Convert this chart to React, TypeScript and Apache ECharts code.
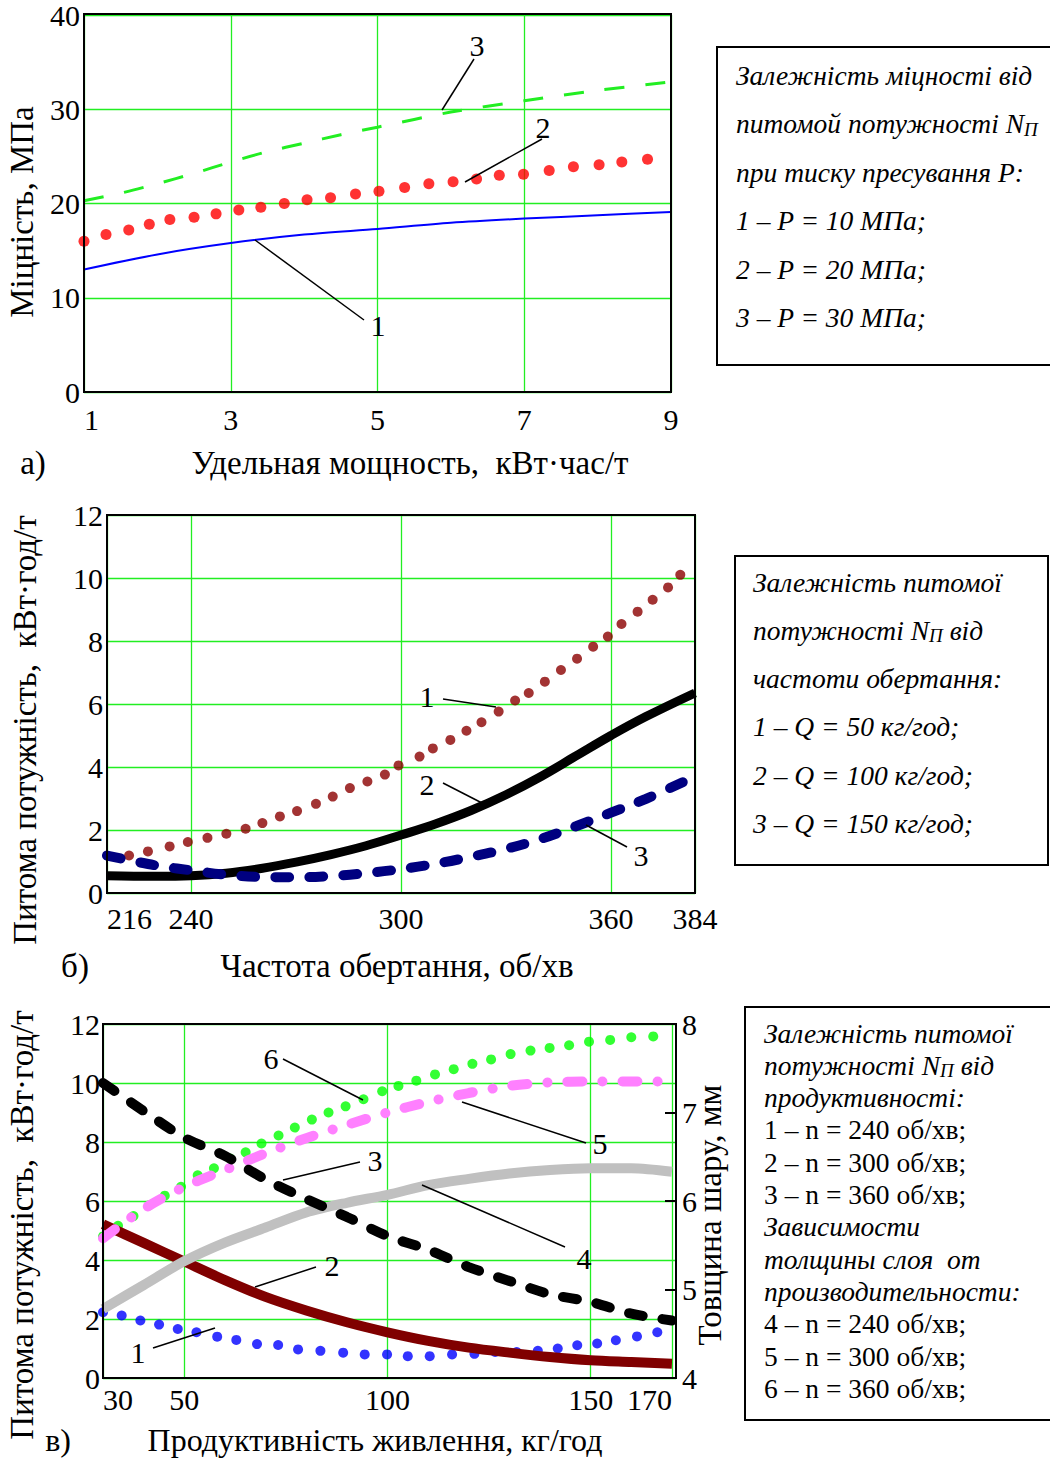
import React, { useEffect, useRef } from 'react';
import * as echarts from 'echarts';

const FONT = "'Liberation Serif', 'Times New Roman', serif";

// ---------- Chart а) ----------
const aTicksX = [1, 3, 5, 7, 9];
const a1X = [1, 2, 3, 4, 5, 6, 7, 8, 9];
const a1Y = [13.0, 14.6, 15.8, 16.7, 17.3, 17.95, 18.4, 18.75, 19.1];
const a2X = [1.0, 1.3, 1.61, 1.89, 2.17, 2.5, 2.8, 3.11, 3.41, 3.73, 4.04, 4.36, 4.7, 5.02, 5.37, 5.7, 6.03, 6.35, 6.66, 6.99, 7.34, 7.67, 8.02, 8.33, 8.68];
const a2Y = [16.0, 16.7, 17.2, 17.8, 18.3, 18.55, 18.9, 19.3, 19.6, 20.0, 20.4, 20.6, 21.0, 21.3, 21.7, 22.1, 22.3, 22.6, 23.0, 23.1, 23.5, 23.9, 24.1, 24.4, 24.7];
const a3X = [1, 1.5, 2, 2.5, 3, 3.5, 4, 4.5, 5, 6, 7, 8, 9];
const a3Y = [20.3, 21.1, 22.1, 23.2, 24.4, 25.5, 26.4, 27.3, 28.1, 29.7, 30.9, 32.0, 32.9];

// ---------- Chart б) ----------
const bTicksX = [216, 240, 300, 360, 384];
const b1X = [222.3, 227.7, 233.9, 239.1, 244.7, 250.1, 255.6, 260.4, 265.4, 270.3, 275.7, 280.5, 285.4, 290.4, 295.4, 299.3, 305.3, 309.1, 314.1, 318.7, 323.0, 327.9, 332.6, 336.5, 341.1, 345.7, 350.3, 354.9, 359.1, 363.0, 367.6, 371.9, 376.3, 379.8];
const b1Y = [1.19, 1.32, 1.48, 1.62, 1.75, 1.88, 2.04, 2.22, 2.43, 2.6, 2.83, 3.06, 3.33, 3.54, 3.76, 4.05, 4.33, 4.59, 4.86, 5.15, 5.42, 5.76, 6.11, 6.35, 6.71, 7.08, 7.44, 7.82, 8.14, 8.54, 8.93, 9.31, 9.7, 10.1];
const b2X = [216, 230, 240, 250, 260, 270, 280, 290, 300, 310, 320, 330, 340, 350, 360, 370, 384];
const b2Y = [0.55, 0.53, 0.55, 0.63, 0.78, 0.98, 1.22, 1.5, 1.84, 2.2, 2.62, 3.12, 3.7, 4.35, 5.0, 5.6, 6.35];
const b3X = [216, 225, 232, 240, 250, 260, 270, 280, 290, 300, 310, 320, 330, 340, 350, 360, 370, 384];
const b3Y = [1.19, 0.98, 0.84, 0.72, 0.58, 0.51, 0.5, 0.54, 0.63, 0.76, 0.93, 1.15, 1.4, 1.72, 2.12, 2.55, 2.99, 3.7];

// ---------- Chart в) ----------
const cTicksX = [30, 50, 100, 150, 170];
const cLineX = [30, 40, 50, 60, 70, 80, 90, 100, 110, 120, 130, 140, 150, 160, 170];
const c1X = [30, 34.6, 39.2, 43.8, 48.4, 53.0, 58.1, 62.8, 67.9, 73.1, 78.0, 83.5, 89.1, 94.4, 99.9, 105.0, 110.4, 115.9, 121.4, 126.5, 131.8, 137.0, 141.9, 146.7, 151.6, 156.2, 161.4, 166.4];
const c1Y = [2.23, 2.12, 1.95, 1.81, 1.66, 1.55, 1.4, 1.29, 1.15, 1.12, 0.97, 0.92, 0.86, 0.8, 0.8, 0.74, 0.74, 0.8, 0.82, 0.88, 0.88, 0.92, 1.0, 1.11, 1.17, 1.28, 1.41, 1.55];
const c2Y = [5.21, 4.58, 3.95, 3.32, 2.75, 2.29, 1.89, 1.55, 1.26, 1.03, 0.86, 0.71, 0.6, 0.54, 0.48];
const c3Y = [10.0, 9.05, 8.15, 7.53, 6.73, 6.07, 5.46, 4.81, 4.35, 3.76, 3.29, 2.84, 2.58, 2.18, 1.95];
const c4Y = [4.78, 5.05, 5.32, 5.53, 5.7, 5.87, 5.98, 6.07, 6.18, 6.25, 6.31, 6.35, 6.37, 6.37, 6.33];
const c5Y = [5.58, 5.91, 6.16, 6.35, 6.54, 6.71, 6.86, 7.0, 7.12, 7.22, 7.3, 7.34, 7.35, 7.35, 7.35];
const c6X = [30, 33.7, 37.5, 41.3, 45.2, 49.2, 53.3, 57.3, 61.3, 65.1, 69.0, 73.2, 77.2, 81.4, 85.5, 89.7, 94.1, 98.7, 102.7, 107.1, 111.7, 116.3, 120.9, 125.5, 130.3, 135.2, 139.9, 144.7, 149.6, 154.8, 160.0, 165.4];
const c6Y = [5.6, 5.72, 5.83, 5.95, 6.06, 6.16, 6.29, 6.37, 6.48, 6.55, 6.65, 6.74, 6.83, 6.92, 7.0, 7.07, 7.15, 7.24, 7.3, 7.36, 7.43, 7.49, 7.55, 7.6, 7.66, 7.7, 7.73, 7.76, 7.8, 7.82, 7.85, 7.86];

// ---------- Legends ----------
const legendA = [
  'Залежність міцності від',
  'питомой потужності N{sub|П}',
  'при тиску пресування P:',
  '1 – P = 10 МПа;',
  '2 – P = 20 МПа;',
  '3 – P = 30 МПа;',
];
const legendB = [
  'Залежність питомої',
  'потужності N{sub|П} від',
  'частоти обертання:',
  '1 – Q = 50 кг/год;',
  '2 – Q = 100 кг/год;',
  '3 – Q = 150 кг/год;',
];
const legendC = [
  'Залежність питомої',
  'потужності N{sub|П} від',
  'продуктивності:',
  '1 – n = 240 об/хв;',
  '2 – n = 300 об/хв;',
  '3 – n = 360 об/хв;',
  'Зависимости',
  'толщины слоя  от',
  'производительности:',
  '4 – n = 240 об/хв;',
  '5 – n = 300 об/хв;',
  '6 – n = 360 об/хв;',
];
const legendCItalic = [true, true, true, false, false, false, true, true, true, false, false, false];

const zip = (xs: number[], ys: number[]) => xs.map((x, i) => [x, ys[i]]);

export default function App() {
  const ref = useRef<HTMLDivElement>(null);
  useEffect(() => {
    if (!ref.current) return;
    const chart = echarts.init(ref.current, null, { renderer: 'svg' });

    const tickFont = { fontFamily: FONT, fontSize: 30, color: '#000' };
    const green = { color: '#22ee22', width: 1.3 };
    const TITLE = 33;

    const xCommon = (gi: number, min: number, max: number, ticks: number[], margin: number, alignMax: string) => ({
      gridIndex: gi, type: 'value', min, max,
      axisLine: { show: false },
      axisTick: { show: false, customValues: ticks },
      axisLabel: { ...tickFont, margin, customValues: ticks, alignMinLabel: 'left', alignMaxLabel: alignMax },
      splitLine: { show: true, lineStyle: green },
    });
    const yCommon = (gi: number, min: number, max: number, interval: number, margin: number) => ({
      gridIndex: gi, type: 'value', min, max, interval,
      axisLine: { show: false },
      axisTick: { show: false },
      axisLabel: { ...tickFont, margin },
      splitLine: { show: true, lineStyle: green },
    });

    const txt = (text: string, x: number, y: number, size = 30, extra: any = {}) => ({
      type: 'text', x, y, silent: true, z: 20,
      style: { text, fontFamily: FONT, fontSize: size, fill: '#000', align: 'center', verticalAlign: 'middle', ...extra },
    });
    const ln = (x1: number, y1: number, x2: number, y2: number) => ({
      type: 'line', silent: true, z: 20, shape: { x1, y1, x2, y2 }, style: { stroke: '#000', lineWidth: 1.5 },
    });
    const vtxt = (text: string, x: number, y: number, size = TITLE) => ({
      type: 'text', x, y, rotation: Math.PI / 2, silent: true, z: 20,
      style: { text, fontFamily: FONT, fontSize: size, fill: '#000', align: 'center', verticalAlign: 'middle' },
    });
    const legendText = (lines: string[], x: number, y0: number, dy: number, italic: (i: number) => boolean) =>
      lines.map((t, i) => ({
        type: 'text', x, y: y0 + i * dy, silent: true, z: 20,
        style: {
          text: t, fontFamily: FONT, fontSize: 27.5, fontStyle: italic(i) ? 'italic' : 'normal', fill: '#000',
          align: 'left', verticalAlign: 'middle', lineHeight: 30,
          rich: { sub: { fontFamily: FONT, fontSize: 19, fontStyle: 'italic', fill: '#000', lineHeight: 14, verticalAlign: 'bottom' } },
        },
      }));
    const box = (x: number, y: number, w: number, h: number) => ({
      type: 'rect', silent: true, z: 20, shape: { x, y, width: w, height: h }, style: { fill: 'transparent', stroke: '#000', lineWidth: 2 },
    });

    const option: any = {
      animation: false,
      textStyle: { fontFamily: FONT },
      grid: [
        { left: 84, top: 14, width: 587, height: 378 },
        { left: 107, top: 515, width: 588, height: 378 },
        { left: 103, top: 1024, width: 573, height: 354 },
      ],
      xAxis: [
        xCommon(0, 1, 9, aTicksX, 12, 'center'),
        xCommon(1, 216, 384, bTicksX, 10, 'center'),
        xCommon(2, 30, 171, cTicksX, 6, 'right'),
      ],
      yAxis: [
        yCommon(0, 0, 40, 10, 4),
        yCommon(1, 0, 12, 2, 4),
        yCommon(2, 0, 12, 2, 3),
        {
          gridIndex: 2, type: 'value', position: 'right', min: 4, max: 8, interval: 1,
          axisLine: { show: false },
          axisTick: { show: true, inside: true, length: 11, lineStyle: { color: '#000', width: 2 } },
          axisLabel: { ...tickFont, margin: 6 },
          splitLine: { show: false },
        },
      ],
      series: [
        // а)
        { type: 'line', xAxisIndex: 0, yAxisIndex: 0, data: zip(a1X, a1Y), smooth: 0.3, symbol: 'none', silent: true,
          lineStyle: { color: '#0000ff', width: 2 } },
        { type: 'line', xAxisIndex: 0, yAxisIndex: 0, data: zip(a3X, a3Y), smooth: 0.3, symbol: 'none', silent: true,
          lineStyle: { color: '#22ee22', width: 3, type: [20, 21] } },
        { type: 'scatter', xAxisIndex: 0, yAxisIndex: 0, data: zip(a2X, a2Y), symbol: 'circle', symbolSize: 11, silent: true,
          itemStyle: { color: '#ff0000' } },
        // б)
        { type: 'line', xAxisIndex: 1, yAxisIndex: 1, data: zip(b2X, b2Y), smooth: 0.4, symbol: 'none', silent: true,
          lineStyle: { color: '#000000', width: 9 } },
        { type: 'line', xAxisIndex: 1, yAxisIndex: 1, data: zip(b3X, b3Y), smooth: 0.4, symbol: 'none', silent: true,
          lineStyle: { color: '#000080', width: 10, type: [14, 20], cap: 'round' } },
        { type: 'scatter', xAxisIndex: 1, yAxisIndex: 1, data: zip(b1X, b1Y), symbol: 'circle', symbolSize: 10, silent: true,
          itemStyle: { color: '#8b0000' } },
        // в)
        { type: 'line', xAxisIndex: 2, yAxisIndex: 2, data: zip(cLineX, c2Y), smooth: 0.3, symbol: 'none', silent: true,
          lineStyle: { color: '#800000', width: 10 } },
        { type: 'line', xAxisIndex: 2, yAxisIndex: 3, data: zip(cLineX, c4Y), smooth: 0.3, symbol: 'none', silent: true,
          lineStyle: { color: '#c0c0c0', width: 10 } },
        { type: 'line', xAxisIndex: 2, yAxisIndex: 3, data: zip(cLineX, c5Y), smooth: 0.3, symbol: 'none', silent: true,
          lineStyle: { color: '#ff80ff', width: 10, type: [15, 20, 0.1, 20], cap: 'round' } },
        { type: 'line', xAxisIndex: 2, yAxisIndex: 2, data: zip(cLineX, c3Y), smooth: 0.3, symbol: 'none', silent: true,
          lineStyle: { color: '#000000', width: 10, type: [14, 20], cap: 'round' } },
        { type: 'scatter', xAxisIndex: 2, yAxisIndex: 3, data: zip(c6X, c6Y), symbol: 'circle', symbolSize: 10, silent: true,
          itemStyle: { color: '#00ff00' } },
        { type: 'scatter', xAxisIndex: 2, yAxisIndex: 2, data: zip(c1X, c1Y), symbol: 'circle', symbolSize: 10, silent: true,
          itemStyle: { color: '#0000ff' } },
      ],
      graphic: [
        // plot borders
        box(84, 14, 587, 378),
        box(107, 515, 588, 378),
        box(103, 1024, 573, 354),
        // axis titles
        vtxt('Міцність, МПа', 22, 212),
        txt('Удельная мощность,  кВт·час/т', 410, 463, TITLE),
        txt('а)', 33, 463, TITLE),
        vtxt('Питома потужність,  кВт·год/т', 25, 730),
        txt('Частота обертання, об/хв', 397, 966, TITLE),
        txt('б)', 75, 966, TITLE),
        vtxt('Питома потужність,  кВт·год/т', 22, 1225),
        vtxt('Товщина шару, мм', 710, 1215),
        txt('Продуктивність живлення, кг/год', 375, 1456, 32, { verticalAlign: 'bottom' }),
        txt('в)', 58, 1456, 32, { verticalAlign: 'bottom' }),
        // annotations а)
        txt('3', 477, 45), ln(474, 59, 442, 110),
        txt('2', 543, 127), ln(542, 139, 465, 182),
        txt('1', 378, 325), ln(364, 320, 255, 240),
        // annotations б)
        txt('1', 427, 696), ln(443, 699, 496, 707),
        txt('2', 427, 784), ln(443, 783, 482, 803),
        txt('3', 641, 855), ln(627, 847, 586, 825),
        // annotations в)
        txt('6', 271, 1058), ln(283, 1059, 363, 1100),
        txt('5', 600, 1143), ln(586, 1143, 462, 1102),
        txt('3', 375, 1160), ln(360, 1162, 283, 1180),
        txt('4', 584, 1258), ln(565, 1247, 422, 1185),
        txt('2', 332, 1265), ln(316, 1267, 255, 1287),
        txt('1', 138, 1352), ln(153, 1348, 215, 1328),
        // legends
        box(717, 47, 340, 318),
        ...legendText(legendA, 736, 75, 48.5, () => true),
        box(735, 556, 313, 309),
        ...legendText(legendB, 753, 582, 48.3, () => true),
        box(745, 1007, 310, 413),
        ...legendText(legendC, 764, 1033, 32.3, (i) => legendCItalic[i]),
      ],
    };
    chart.setOption(option);
    return () => chart.dispose();
  }, []);
  return <div ref={ref} style={{ position: 'absolute', left: 0, top: 0, width: 1050, height: 1458, background: '#fff' }} />;
}
